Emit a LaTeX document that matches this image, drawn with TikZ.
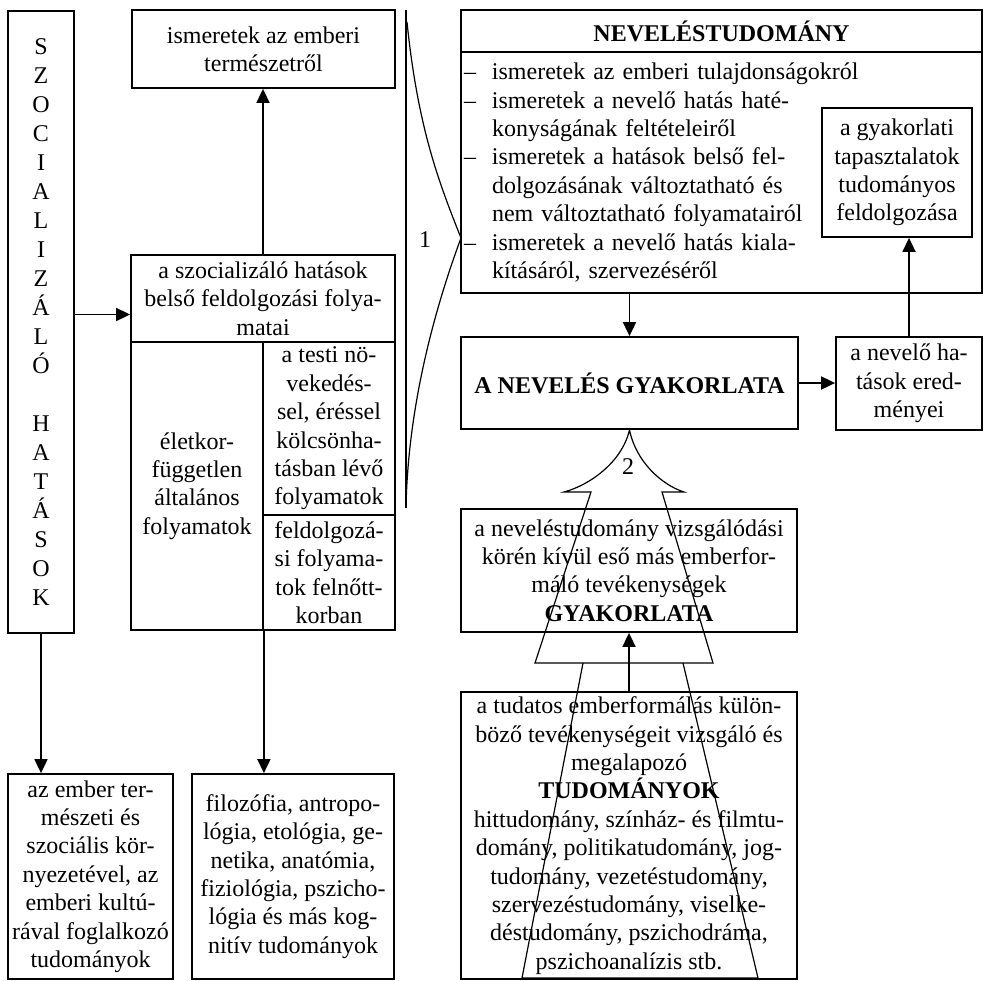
\documentclass[tikz,border=0pt]{standalone}
\usepackage{fontspec}
\setmainfont{Liberation Serif}
\usepackage{tikz}
\usetikzlibrary{arrows.meta, positioning, calc}
\newcommand{\betu}{\fontsize{12pt}{14.2pt}\selectfont}
\newcommand{\pont}{\makebox[14pt][l]{–}}
\newcommand{\beh}{\hspace*{14pt}}

\begin{document}
\begin{tikzpicture}[x=0.5pt, y=-0.5pt,
    doboz/.style={draw, line width=0.9pt, align=center, inner xsep=1.5pt,
                  inner ysep=0.5pt, font=\betu},
    nyil/.style={-{Triangle[length=7pt, width=6.5pt]}, line width=0.9pt},
    vekony/.style={line width=0.6pt}]

    \useasboundingbox (0,0) rectangle (984,980);

    % Szocializáló hatások (függőleges felirat)
    \node[doboz, minimum width=33pt, minimum height=311pt,
          font=\fontsize{12pt}{14.5pt}\selectfont] (sz) at (41,322)
      {S\\Z\\O\\C\\I\\A\\L\\I\\Z\\Á\\L\\Ó\\[14.5pt]H\\A\\T\\Á\\S\\O\\K};

    % Ismeretek az emberi természetről
    \node[doboz, minimum width=131.5pt, minimum height=39pt] (termeszet)
      at (263.5,49) {ismeretek az emberi\\természetről};

    % A szocializáló hatások belső feldolgozása (négy cella)
    \node[doboz, minimum width=132pt, minimum height=43.5pt] (szocfej)
      at (263,298.5) {a szocializáló hatások\\belső feldolgozási folya-\\matai};
    \node[doboz, minimum width=66pt, minimum height=144pt] (eletkor)
      at (197,486) {életkor-\\független\\általános\\folyamatok};
    \node[doboz, minimum width=66pt, minimum height=86.5pt] (testi)
      at (329,428.5)
      {a testi nö-\\vekedés-\\sel, éréssel\\kölcsönha-\\tásban lévő\\folyamatok};
    \node[doboz, minimum width=66pt, minimum height=57.5pt] (felnott)
      at (329,572.5) {feldolgozá-\\si folyama-\\tok felnőtt-\\korban};

    % Alsó tudományterületek
    \node[doboz, minimum width=82.5pt, minimum height=102.5pt] (kornyezet)
      at (90.5,876.5)
      {az ember ter-\\mészeti és\\szociális kör-\\nyezetével, az\\emberi kultú-\\rával foglalkozó\\tudományok};
    \node[doboz, minimum width=101pt, minimum height=102.5pt] (filozofia)
      at (293,876.5)
      {filozófia, antropo-\\lógia, etológia, ge-\\netika, anatómia,\\fiziológia, pszicho-\\lógia és más kog-\\nitív tudományok};

    % Neveléstudomány
    \node[doboz, minimum width=260.5pt, minimum height=21pt,
          font=\betu\bfseries] (nevfej) at (721.5,31) {NEVELÉSTUDOMÁNY};
    \node[doboz, minimum height=120.5pt, align=left, text width=257.5pt]
      (nevtorzs) at (721.5,172.5)
      {\pont ismeretek az emberi tulajdonságokról\\
       \pont ismeretek a nevelő hatás haté-\\
       \beh konyságának feltételeiről\\
       \pont ismeretek a hatások belső fel-\\
       \beh dolgozásának változtatható és\\
       \beh nem változtatható folyamatairól\\
       \pont ismeretek a nevelő hatás kiala-\\
       \beh kításáról, szervezéséről};
    \node[doboz, minimum width=75pt, minimum height=64.5pt] (tapasztalat)
      at (897,172.5) {a gyakorlati\\tapasztalatok\\tudományos\\feldolgozása};

    % A nevelés gyakorlata
    \node[doboz, minimum width=168.5pt, minimum height=46pt,
          font=\betu\bfseries] (gyakorlat) at (629.5,383) {A NEVELÉS GYAKORLATA};
    \node[doboz, minimum width=73pt, minimum height=46.5pt] (eredmeny)
      at (909,383.5) {a nevelő ha-\\tások ered-\\ményei};
    \node[doboz, minimum width=168pt, minimum height=61.5pt] (mas)
      at (629,570.5)
      {a neveléstudomány vizsgálódási\\körén kívül eső más emberfor-\\máló tevékenységek\\\textbf{GYAKORLATA}};
    \node[doboz, minimum width=168pt, minimum height=143.5pt] (tudomanyok)
      at (629,835.5)
      {a tudatos emberformálás külön-\\böző tevékenységeit vizsgáló és\\megalapozó\\\textbf{TUDOMÁNYOK}\\hittudomány, színház- és filmtu-\\domány, politikatudomány, jog-\\tudomány, vezetéstudomány,\\szervezéstudomány, viselke-\\déstudomány, pszichodráma,\\pszichoanalízis stb.};

    % Nyilak
    \draw[nyil] (szocfej.north) -- (szocfej.north |- termeszet.south);
    \path ([yshift=-8pt]szocfej.west) coordinate (belep);
    \draw[nyil] (sz.east |- belep) -- (belep);
    \draw[nyil] (sz.south) -- (sz.south |- kornyezet.north);
    \draw[nyil] (eletkor.south east) -- (eletkor.south east |- filozofia.north);
    \draw[nyil] (gyakorlat.north |- nevtorzs.south) -- (gyakorlat.north);
    \draw[nyil] (gyakorlat.east) -- (gyakorlat.east -| eredmeny.west);
    \draw[nyil] (eredmeny.north) -- (eredmeny.north |- tapasztalat.south);
    \draw[nyil] (tudomanyok.north) -- (tudomanyok.north |- mas.south);

    % 1: zárójel a neveléstudomány felé
    \draw[vekony] (406,10) -- (406,508);
    \draw[vekony] (407,22) .. controls (418,130) and (440,185) .. (461,238)
      .. controls (438,300) and (408,400) .. (406,508);
    \node[font=\betu] (egy) at (425,240) {1};

    % 2: nagy nyíl a gyakorlat felé
    \draw[vekony] (gyakorlat.south) .. controls (622,462) and (590,485) .. (564,492)
      -- (591,492) -- (535,663) -- (713,663) -- (662,492) -- (684,492)
      .. controls (662,485) and (636,462) .. (gyakorlat.south);
    \draw[vekony] (583,663) -- (522,978) -- (758,978) -- (683,663);
    \node[font=\betu] (ketto) at (628,467) {2};

\end{tikzpicture}
\end{document}
